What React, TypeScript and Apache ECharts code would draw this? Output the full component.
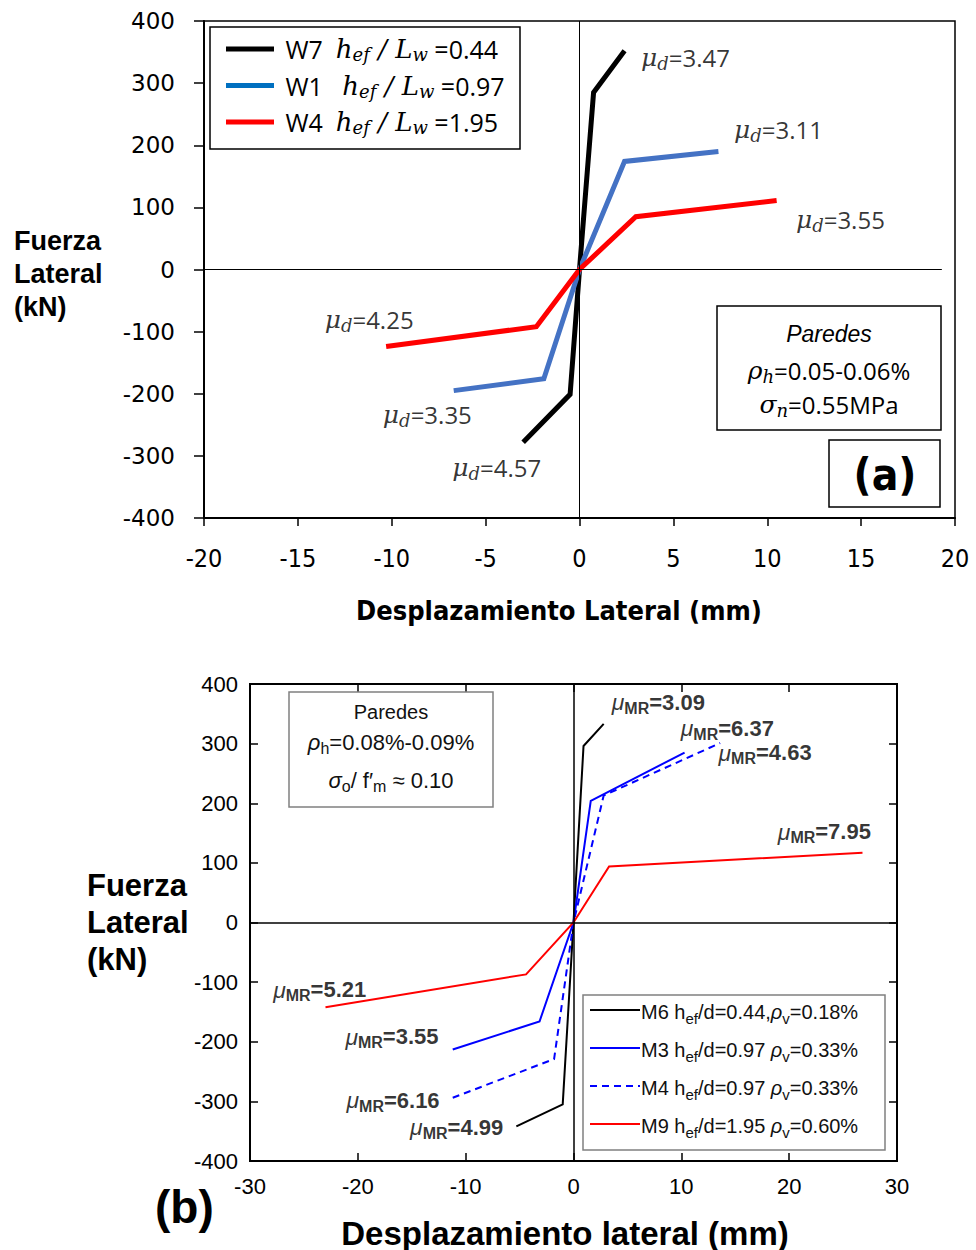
import React, { useEffect, useRef } from "react";
import * as echarts from "echarts";

// ---------- Data: panel (a) ----------
const topXTicks = { min: -20, max: 20, interval: 5 };
const topYTicks = { min: -400, max: 400, interval: 100 };
const w7: number[][] = [[-3.0, -278], [-0.5, -201], [0, 0], [0.75, 285], [2.4, 352]];
const w1: number[][] = [[-6.7, -195], [-1.9, -176], [0, 0], [2.4, 174], [7.4, 190]];
const w4: number[][] = [[-10.3, -124], [-2.3, -92], [0, 0], [3.0, 85], [10.5, 111]];
const topLegend = [
  { name: "W7", ratio: "0.44" },
  { name: "W1", ratio: "0.97" },
  { name: "W4", ratio: "1.95" },
];
const topMuLabels: { pos: number[]; value: string }[] = [
  { pos: [3.25, 341], value: "3.47" },
  { pos: [8.2, 225], value: "3.11" },
  { pos: [11.5, 80], value: "3.55" },
  { pos: [-13.6, -80], value: "4.25" },
  { pos: [-10.5, -233], value: "3.35" },
  { pos: [-6.8, -319], value: "4.57" },
];

// ---------- Data: panel (b) ----------
const botXTicks = { min: -30, max: 30, interval: 10 };
const botYTicks = { min: -400, max: 400, interval: 100 };
const m6: number[][] = [[-5.3, -342], [-1.0, -305], [0, 0], [0.93, 296], [2.8, 333]];
const m3: number[][] = [[-11.2, -213], [-3.15, -166], [0, 0], [1.6, 204], [10.3, 285]];
const m4: number[][] = [[-11.2, -294], [-1.8, -229], [0, 0], [2.8, 213], [13.6, 301]];
const m9: number[][] = [[-23, -142], [-4.4, -87], [0, 0], [3.3, 94], [26.8, 117]];
const botLegend = [
  { name: "M6", ratio: "0.44", sep: ",", rho: "0.18%", color: "#000000", dashed: false },
  { name: "M3", ratio: "0.97", sep: " ", rho: "0.33%", color: "#0000FF", dashed: false },
  { name: "M4", ratio: "0.97", sep: " ", rho: "0.33%", color: "#0000FF", dashed: true },
  { name: "M9", ratio: "1.95", sep: " ", rho: "0.60%", color: "#FF0000", dashed: false },
];
const botMuLabels: { pos: number[]; value: string }[] = [
  { pos: [3.5, 369], value: "3.09" },
  { pos: [9.9, 326], value: "6.37" },
  { pos: [13.4, 285], value: "4.63" },
  { pos: [18.9, 152], value: "7.95" },
  { pos: [-27.9, -113], value: "5.21" },
  { pos: [-21.2, -192], value: "3.55" },
  { pos: [-21.1, -298], value: "6.16" },
  { pos: [-15.2, -343], value: "4.99" },
];

const SERIF = "'DejaVu Serif', 'Liberation Serif', serif";
const CAL = "'Open Sans', 'Noto Sans', sans-serif";
const ARIAL = "'Liberation Sans', Arial, sans-serif";
const NARROW = "'Liberation Sans Narrow', 'DejaVu Sans Condensed', 'Liberation Sans', sans-serif";

export default function App() {
  const ref = useRef<HTMLDivElement>(null);
  useEffect(() => {
    if (!ref.current) return;
    const chart = echarts.init(ref.current, null, { renderer: "svg" });

    const topRich = {
      mu: { fontFamily: SERIF, fontStyle: "italic", fontSize: 25, color: "#000" },
      sb: { fontFamily: SERIF, fontStyle: "italic", fontSize: 18, color: "#000", padding: [12, 0, 0, 0] },
      v: { fontFamily: CAL, fontSize: 24, color: "#000" },
    };
    const botRich = {
      mu: { fontFamily: ARIAL, fontStyle: "italic", fontSize: 23, color: "#000" },
      sb: { fontFamily: ARIAL, fontWeight: "bold", fontSize: 16, color: "#000", padding: [12, 0, 0, 0] },
      v: { fontFamily: ARIAL, fontWeight: "bold", fontSize: 22, color: "#000" },
    };

    const lineSeries = (name: string, data: number[][], color: string, width: number, gi: number, dashed = false) => ({
      type: "line",
      name,
      data,
      xAxisIndex: gi === 0 ? 0 : 1,
      yAxisIndex: gi === 0 ? 0 : 1,
      symbol: "none",
      lineStyle: { color, width, type: dashed ? [7, 5] : "solid", cap: "butt", join: "miter" },
      itemStyle: { color },
      z: 3,
    });

    const botLegendGraphics: any[] = [];
    botLegend.forEach((l, i) => {
      const y = 1010 + i * 38;
      botLegendGraphics.push({
        type: "line", z: 2,
        shape: { x1: 590, y1: y, x2: 640, y2: y },
        style: { stroke: l.color, lineWidth: 2, lineDash: l.dashed ? [7, 5] : null },
      });
      botLegendGraphics.push({
        type: "text", x: 641, y: y + 2, z: 2,
        style: {
          text: `{t|${l.name} h}{sb|ef}{t|/d=${l.ratio}${l.sep}}{it|ρ}{sb|v}{t|=${l.rho}}`,
          align: "left", verticalAlign: "middle",
          rich: {
            t: { fontFamily: ARIAL, fontSize: 20, fill: "#111" },
            it: { fontFamily: ARIAL, fontStyle: "italic", fontSize: 20, fill: "#111" },
            sb: { fontFamily: ARIAL, fontSize: 15, fill: "#111", padding: [13, 0, 0, 0] },
          },
        },
      });
    });

    const option: any = {
      animation: false,
      grid: [
        { left: 204, top: 21, width: 751, height: 497, show: true, borderColor: "#000", borderWidth: 1.5, backgroundColor: "transparent" },
        { left: 250, top: 684, width: 647, height: 477, show: true, borderColor: "#000", borderWidth: 2, backgroundColor: "transparent" },
      ],
      xAxis: [
        {
          type: "value", gridIndex: 0, ...topXTicks, position: "bottom",
          axisLine: { show: true, onZero: false, lineStyle: { color: "#000", width: 2 } },
          axisTick: { show: true, inside: false, length: 8, lineStyle: { color: "#000", width: 1.5 } },
          axisLabel: { fontFamily: NARROW, fontSize: 25, color: "#000", margin: 28 },
          splitLine: { show: false },
        },
        {
          type: "value", gridIndex: 1, ...botXTicks, position: "bottom",
          axisLine: { show: true, onZero: false, lineStyle: { color: "#000", width: 2 } },
          axisTick: { show: true, inside: true, length: 8, lineStyle: { color: "#000", width: 1.5 } },
          axisLabel: { fontFamily: ARIAL, fontSize: 22, color: "#000", margin: 14 },
          splitLine: { show: false },
        },
        {
          type: "value", gridIndex: 1, ...botXTicks, position: "top",
          axisLine: { show: true, onZero: false, lineStyle: { color: "#000", width: 2 } },
          axisTick: { show: true, inside: true, length: 8, lineStyle: { color: "#000", width: 1.5 } },
          axisLabel: { show: false },
          splitLine: { show: false },
        },
      ],
      yAxis: [
        {
          type: "value", gridIndex: 0, ...topYTicks, position: "left",
          axisLine: { show: true, onZero: false, lineStyle: { color: "#000", width: 2 } },
          axisTick: { show: true, inside: false, length: 10, lineStyle: { color: "#000", width: 1.5 } },
          axisLabel: { fontFamily: "'DejaVu Sans', sans-serif", fontSize: 23, color: "#000", margin: 29 },
          splitLine: { show: false },
        },
        {
          type: "value", gridIndex: 1, ...botYTicks, position: "left",
          axisLine: { show: true, onZero: false, lineStyle: { color: "#000", width: 2 } },
          axisTick: { show: true, inside: true, length: 8, lineStyle: { color: "#000", width: 1.5 } },
          axisLabel: { fontFamily: ARIAL, fontSize: 22, color: "#000", margin: 12 },
          splitLine: { show: false },
        },
        {
          type: "value", gridIndex: 1, ...botYTicks, position: "right",
          axisLine: { show: true, onZero: false, lineStyle: { color: "#000", width: 2 } },
          axisTick: { show: true, inside: true, length: 8, lineStyle: { color: "#000", width: 1.5 } },
          axisLabel: { show: false },
          splitLine: { show: false },
        },
      ],
      legend: [
        {
          data: topLegend.map((l) => (l.name === "W1" ? { name: l.name, itemStyle: { color: "#0070C0" } } : { name: l.name })),
          orient: "vertical",
          left: 221,
          top: 31,
          icon: "rect",
          itemWidth: 48,
          itemHeight: 5,
          itemGap: 9,
          selectedMode: false,
          formatter: (name: string) => {
            const l = topLegend.find((t) => t.name === name)!;
            const gap = l.name === "W1" ? "   " : "  ";
            return `{t| ${l.name}${gap}}{it|h}{sb|ef}{it| / L}{sb|w}{t| =${l.ratio}}`;
          },
          textStyle: {
            color: "#000",
            rich: {
              t: { fontFamily: CAL, fontSize: 25, color: "#000" },
              it: { fontFamily: SERIF, fontStyle: "italic", fontSize: 26, color: "#000" },
              sb: { fontFamily: SERIF, fontStyle: "italic", fontSize: 18, color: "#000", padding: [11, 0, 0, 0] },
            },
          },
        },
      ],
      series: [
        // zero lines panel (a)
        {
          type: "line", xAxisIndex: 0, yAxisIndex: 0, data: [], silent: true,
          markLine: {
            silent: true, symbol: "none", label: { show: false },
            lineStyle: { color: "#000", width: 1, type: "solid" },
            data: [
              [{ coord: [0, topYTicks.min] }, { coord: [0, topYTicks.max] }],
              [{ coord: [topXTicks.min, 0] }, { coord: [19.3, 0] }],
            ],
          },
        },
        // zero lines panel (b)
        {
          type: "line", xAxisIndex: 1, yAxisIndex: 1, data: [], silent: true,
          markLine: {
            silent: true, symbol: "none", label: { show: false },
            lineStyle: { color: "#000", width: 1.5, type: "solid" },
            data: [{ xAxis: 0 }, { yAxis: 0 }],
          },
        },
        lineSeries("W7", w7, "#000000", 5, 0),
        lineSeries("W1", w1, "#4472C4", 5, 0),
        lineSeries("W4", w4, "#FF0000", 5, 0),
        lineSeries("M6", m6, "#000000", 2, 1),
        lineSeries("M3", m3, "#0000FF", 2, 1),
        lineSeries("M4", m4, "#0000FF", 2, 1, true),
        lineSeries("M9", m9, "#FF0000", 2, 1),
        {
          type: "scatter", xAxisIndex: 0, yAxisIndex: 0, silent: true,
          symbolSize: 1, itemStyle: { color: "transparent" },
          data: topMuLabels.map((m) => ({ value: m.pos, lab: m.value })),
          label: {
            show: true, position: "right", distance: 0, color: "#000",
            formatter: (p: any) => `{mu|μ}{sb|d}{v|=${p.data.lab}}`,
            rich: topRich,
          },
          z: 5,
        },
        {
          type: "scatter", xAxisIndex: 1, yAxisIndex: 1, silent: true,
          symbolSize: 1, itemStyle: { color: "transparent" },
          data: botMuLabels.map((m) => ({ value: m.pos, lab: m.value })),
          label: {
            show: true, position: "right", distance: 0, color: "#000",
            formatter: (p: any) => `{mu|μ}{sb|MR}{v|=${p.data.lab}}`,
            rich: botRich,
          },
          z: 5,
        },
      ],
      graphic: [
        // panel (a) legend frame
        { type: "rect", shape: { x: 210, y: 27, width: 310, height: 122 }, style: { fill: "#fff", stroke: "#000", lineWidth: 1.5 }, z: 1 },
        // Paredes box (a)
        { type: "rect", shape: { x: 717, y: 306, width: 224, height: 124 }, style: { fill: "#fff", stroke: "#000", lineWidth: 1.5 }, z: 1 },
        { type: "text", x: 829, y: 334, style: { text: "Paredes", font: `italic 23px ${ARIAL}`, fill: "#000", align: "center", verticalAlign: "middle" }, z: 2 },
        {
          type: "text", x: 829, y: 370, z: 2,
          style: {
            text: "{it|ρ}{sb|h}{t|=0.05-0.06%}", align: "center", verticalAlign: "middle",
            rich: {
              it: { fontFamily: SERIF, fontStyle: "italic", fontSize: 25, fill: "#000" },
              sb: { fontFamily: SERIF, fontStyle: "italic", fontSize: 18, fill: "#000", padding: [12, 0, 0, 0] },
              t: { fontFamily: CAL, fontSize: 24, fill: "#000" },
            },
          },
        },
        {
          type: "text", x: 829, y: 404, z: 2,
          style: {
            text: "{it|σ}{sb|n}{t|=0.55MPa}", align: "center", verticalAlign: "middle",
            rich: {
              it: { fontFamily: SERIF, fontStyle: "italic", fontSize: 25, fill: "#000" },
              sb: { fontFamily: SERIF, fontStyle: "italic", fontSize: 18, fill: "#000", padding: [12, 0, 0, 0] },
              t: { fontFamily: CAL, fontSize: 24, fill: "#000" },
            },
          },
        },
        // (a) box
        { type: "rect", shape: { x: 829, y: 440, width: 111, height: 67 }, style: { fill: "#fff", stroke: "#000", lineWidth: 1.5 }, z: 1 },
        { type: "text", x: 885, y: 474, style: { text: "(a)", font: `bold 44px ${NARROW}`, fill: "#000", align: "center", verticalAlign: "middle" }, z: 2 },
        // panel (a) titles
        { type: "text", x: 14, y: 274, style: { text: "Fuerza\nLateral\n(kN)", font: `bold 27px ${ARIAL}`, lineHeight: 33, fill: "#000", align: "left", verticalAlign: "middle" }, z: 2 },
        { type: "text", x: 559, y: 610, style: { text: "Desplazamiento Lateral (mm)", font: `bold 27px ${NARROW}`, fill: "#000", align: "center", verticalAlign: "middle" }, z: 2 },
        // Paredes box (b)
        { type: "rect", shape: { x: 289, y: 692, width: 204, height: 115 }, style: { fill: "#fff", stroke: "#808080", lineWidth: 1.5 }, z: 1 },
        { type: "text", x: 391, y: 712, style: { text: "Paredes", font: `20px ${ARIAL}`, fill: "#111", align: "center", verticalAlign: "middle" }, z: 2 },
        {
          type: "text", x: 391, y: 742, z: 2,
          style: {
            text: "{it|ρ}{sb|h}{t|=0.08%-0.09%}", align: "center", verticalAlign: "middle",
            rich: {
              it: { fontFamily: ARIAL, fontStyle: "italic", fontSize: 22, fill: "#111" },
              sb: { fontFamily: ARIAL, fontSize: 16, fill: "#111", padding: [13, 0, 0, 0] },
              t: { fontFamily: ARIAL, fontSize: 22, fill: "#111" },
            },
          },
        },
        {
          type: "text", x: 391, y: 780, z: 2,
          style: {
            text: "{it|σ}{sb|o}{t|/ f′}{sb|m}{t| ≈ 0.10}", align: "center", verticalAlign: "middle",
            rich: {
              it: { fontFamily: ARIAL, fontStyle: "italic", fontSize: 22, fill: "#111" },
              sb: { fontFamily: ARIAL, fontSize: 16, fill: "#111", padding: [13, 0, 0, 0] },
              t: { fontFamily: ARIAL, fontSize: 22, fill: "#111" },
            },
          },
        },
        // legend (b) frame
        { type: "rect", shape: { x: 583, y: 995, width: 302, height: 155 }, style: { fill: "#fff", stroke: "#808080", lineWidth: 1.5 }, z: 1 },
        ...botLegendGraphics,
        // panel (b) titles
        { type: "text", x: 87, y: 922, style: { text: "Fuerza\nLateral\n(kN)", font: `bold 31px ${ARIAL}`, lineHeight: 37, fill: "#000", align: "left", verticalAlign: "middle" }, z: 2 },
        { type: "text", x: 565, y: 1233, style: { text: "Desplazamiento lateral (mm)", font: `bold 33px ${ARIAL}`, fill: "#000", align: "center", verticalAlign: "middle" }, z: 2 },
        { type: "text", x: 155, y: 1207, style: { text: "(b)", font: `bold 46px ${ARIAL}`, fill: "#000", align: "left", verticalAlign: "middle" }, z: 2 },
      ],
    };
    chart.setOption(option);
    return () => chart.dispose();
  }, []);
  return <div ref={ref} style={{ position: "absolute", left: 0, top: 0, width: 976, height: 1250, background: "#fff" }} />;
}
